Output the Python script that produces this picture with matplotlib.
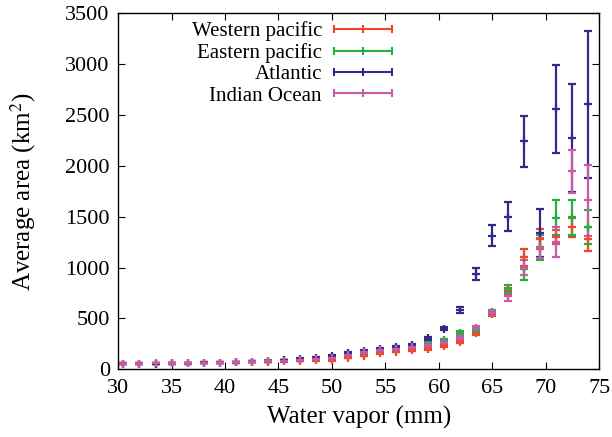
import matplotlib
matplotlib.use("Agg")
import matplotlib.pyplot as plt
from matplotlib.legend_handler import HandlerBase
from matplotlib.lines import Line2D

plt.rcParams['font.family'] = ['Liberation Serif', 'DejaVu Serif']
plt.rcParams['mathtext.fontset'] = 'stix'

# water vapor bins (mm)
vapor = [30.5, 32, 33.5, 35, 36.5, 38, 39.5, 41, 42.5, 44, 45.5, 47, 48.5, 50, 51.5,
         53, 54.5, 56, 57.5, 59, 60.5, 62, 63.5, 65, 66.5, 68, 69.5, 71, 72.5, 74]

west_pac = [55, 55, 55, 58, 60, 62, 65, 68, 72, 76, 80, 85, 88, 92, 114,
            134, 160, 173, 190, 200, 226, 268, 354, 540, 770, 1100, 1280, 1300, 1400, 1280]
west_pac_err = [4, 4, 4, 4, 4, 4, 4, 5, 5, 5, 5, 5, 6, 6, 6,
                7, 7, 8, 8, 9, 10, 12, 15, 20, 30, 83, 100, 70, 95, 120]

east_pac = [55, 56, 57, 58, 60, 63, 66, 70, 76, 82, 88, 93, 100, 116, 148,
            170, 192, 206, 228, 262, 288, 360, 386, 560, 790, 990, 1200, 1490, 1490, 1400]
east_pac_err = [4, 4, 4, 4, 4, 4, 4, 5, 5, 5, 5, 6, 6, 6, 7,
                7, 8, 8, 9, 10, 12, 14, 18, 25, 40, 110, 125, 170, 170, 165]

atlantic = [55, 55, 55, 58, 60, 63, 66, 70, 75, 80, 88, 100, 115, 131, 163,
            183, 203, 216, 239, 305, 399, 583, 937, 1314, 1500, 2240, 1340, 2560, 2270, 2605]
atlantic_err = [4, 4, 4, 4, 4, 4, 4, 5, 5, 5, 5, 6, 6, 7, 8,
                9, 10, 10, 12, 14, 15, 25, 63, 103, 145, 250, 235, 430, 530, 725]

indian = [55, 55, 57, 58, 60, 62, 66, 70, 74, 80, 86, 91, 98, 114, 144,
          167, 187, 200, 222, 239, 268, 311, 403, 557, 720, 1000, 1190, 1250, 1945, 1660]
indian_err = [4, 4, 4, 4, 4, 4, 4, 5, 5, 5, 5, 5, 6, 6, 7,
              7, 8, 8, 9, 10, 11, 14, 18, 25, 50, 70, 100, 150, 215, 350]

series = [
    ("Western pacific", west_pac, west_pac_err, "#f04624"),
    ("Eastern pacific", east_pac, east_pac_err, "#24b040"),
    ("Atlantic", atlantic, atlantic_err, "#2e2a8e"),
    ("Indian Ocean", indian, indian_err, "#c95aaa"),
]


class CapHandler(HandlerBase):
    # gnuplot-like key sample: horizontal bar with ticks at both ends and middle
    def create_artists(self, legend, orig, xd, yd, w, h, fontsize, trans):
        y = h / 2 - yd
        c = orig.get_color()
        line = Line2D([-xd, -xd + w], [y, y], color=c, lw=1.5, transform=trans)
        ticks = Line2D([-xd, -xd + w / 2, -xd + w], [y, y, y], ls='none', marker='|',
                       ms=6, mew=1.5, color=c, transform=trans)
        return [line, ticks]


fig, ax = plt.subplots(figsize=(6.12, 4.37), dpi=100)
fig.subplots_adjust(left=0.193, right=0.979, bottom=0.155, top=0.9696)

handles = []
for name, vals, errs, col in series:
    ax.errorbar(vapor, vals, yerr=errs, fmt='+', color=col, ms=6, mew=1.6,
                elinewidth=1.6, capsize=3, capthick=1.6)
    handles.append(Line2D([], [], color=col, label=name))

ax.set_xlim(30, 75)
ax.set_ylim(0, 3500)
ax.set_xticks(range(30, 76, 5))
ax.set_yticks(range(0, 3501, 500))
ax.tick_params(direction='in', top=True, right=True, length=5, labelsize=16, colors='black')
ax.tick_params(axis='x', pad=7)
ax.tick_params(axis='y', pad=6)
for s in ax.spines.values():
    s.set_linewidth(1.0)
ax.set_xlabel("Water vapor (mm)", fontsize=18, labelpad=6)
ax.set_ylabel("Average area (km$^2$)", fontsize=18, labelpad=20)

ax.legend(handles=handles, handler_map={Line2D: CapHandler()}, loc='upper right',
          bbox_to_anchor=(0.57, 0.978), frameon=False, markerfirst=False, fontsize=15,
          handlelength=2.8, labelspacing=0.09, handletextpad=0.58, borderaxespad=0.0,
          borderpad=0.0)

fig.savefig("out.png", dpi=100)
